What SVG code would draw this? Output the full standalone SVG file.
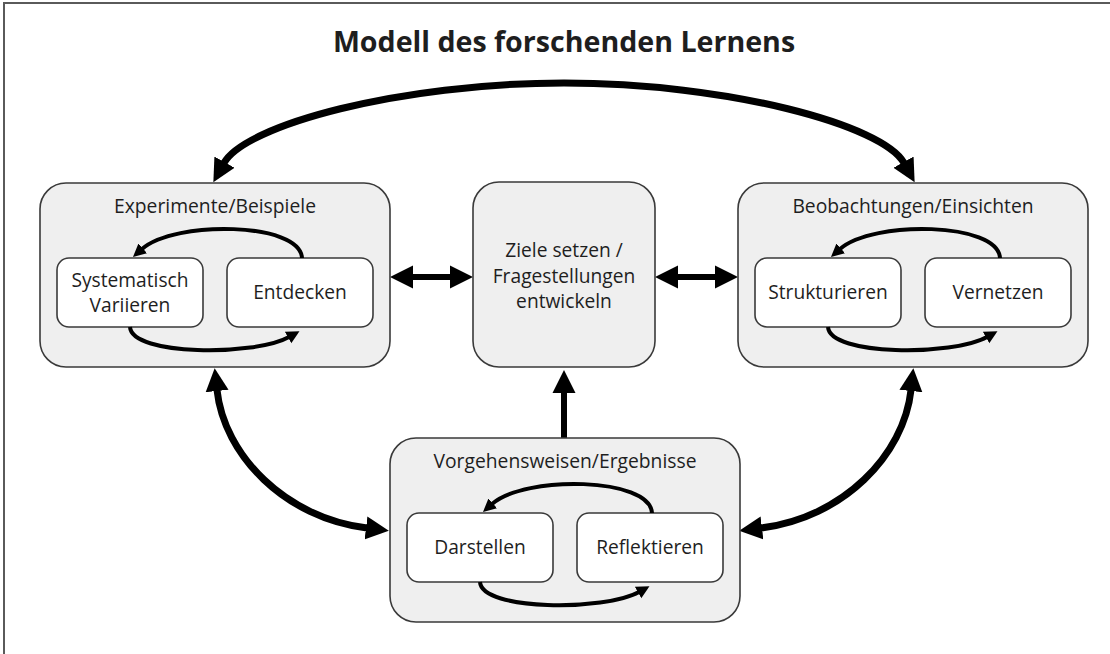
<svg xmlns="http://www.w3.org/2000/svg" width="1110" height="654" viewBox="0 0 1110 654">
<style>
.frame{fill:none;stroke:#5a5a5a;stroke-width:2}
.outer{fill:#efefef;stroke:#3a3a3a;stroke-width:1.6}
.inner{fill:#ffffff;stroke:#3a3a3a;stroke-width:1.6}
.t{font-family:"Open Sans",Lato,"Liberation Sans",sans-serif;fill:#1e1e1e;text-anchor:middle}
.head{font-size:19.3px}
.lbl{font-size:19.2px}
.title{font-size:28.6px;font-weight:bold}
.big{fill:none;stroke:#000;stroke-width:7}
.mid{fill:none;stroke:#000;stroke-width:6}
.loop{fill:none;stroke:#000;stroke-width:4}
</style>
<defs>
<marker id="bh" markerUnits="userSpaceOnUse" viewBox="0 -12 23 24" refX="1" refY="0" markerWidth="23" markerHeight="24" orient="auto-start-reverse">
<path d="M0,-11.5 L23,0 L0,11.5 z" fill="#000"/>
</marker>
<marker id="sh" markerUnits="userSpaceOnUse" viewBox="0 -7 13 14" refX="1" refY="0" markerWidth="13" markerHeight="14" orient="auto-start-reverse">
<path d="M0,-6.5 L13,0 L0,6.5 z" fill="#000"/>
</marker>
<g id="loops">
<path class="loop" d="M302,258 C300,222 175,220 142,249" marker-end="url(#sh)"/>
<path class="loop" d="M130,327 C132,356 255,356 289,337" marker-end="url(#sh)"/>
</g>
</defs>
<path class="frame" d="M4,654 L4,3 L1110,3"/>
<text class="t title" x="564" y="52">Modell des forschenden Lernens</text>
<g id="connectors">
<path class="big" d="M224,163 C245,125 400,83 564,83 C728,83 883,125 904,163" marker-start="url(#bh)" marker-end="url(#bh)"/>
<path class="big" d="M217,390 C224,455 285,518 367,528" marker-start="url(#bh)" marker-end="url(#bh)"/>
<path class="big" d="M911,390 C904,455 843,518 761,528" marker-start="url(#bh)" marker-end="url(#bh)"/>
<path class="mid" d="M412,277 L451,277" marker-start="url(#bh)" marker-end="url(#bh)"/>
<path class="mid" d="M677,277 L716,277" marker-start="url(#bh)" marker-end="url(#bh)"/>
<path class="mid" d="M564,438 L564,392" marker-end="url(#bh)"/>
</g>
<g id="node-experimente">
<rect class="outer" x="40" y="183" width="350" height="184" rx="26"/>
<text class="t head" x="215" y="213">Experimente/Beispiele</text>
<rect class="inner" x="57" y="258" width="146" height="69" rx="12"/>
<text class="t lbl" x="130" y="287">Systematisch</text>
<text class="t lbl" x="130" y="312">Variieren</text>
<rect class="inner" x="227" y="258" width="146" height="69" rx="12"/>
<text class="t lbl" x="300" y="299">Entdecken</text>
<use href="#loops"/>
</g>
<g id="node-ziele">
<rect class="outer" x="473" y="182" width="182" height="185" rx="26"/>
<text class="t lbl" x="564" y="257">Ziele setzen /</text>
<text class="t lbl" x="564" y="283">Fragestellungen</text>
<text class="t lbl" x="564" y="308">entwickeln</text>
</g>
<g id="node-beobachtungen">
<rect class="outer" x="738" y="183" width="350" height="184" rx="26"/>
<text class="t head" x="913" y="213">Beobachtungen/Einsichten</text>
<rect class="inner" x="755" y="258" width="146" height="69" rx="12"/>
<text class="t lbl" x="828" y="299">Strukturieren</text>
<rect class="inner" x="925" y="258" width="146" height="69" rx="12"/>
<text class="t lbl" x="998" y="299">Vernetzen</text>
<use href="#loops" transform="translate(698,0)"/>
</g>
<g id="node-vorgehensweisen">
<rect class="outer" x="390" y="438" width="350" height="184" rx="26"/>
<text class="t head" x="565" y="468">Vorgehensweisen/Ergebnisse</text>
<rect class="inner" x="407" y="513" width="146" height="69" rx="12"/>
<text class="t lbl" x="480" y="554">Darstellen</text>
<rect class="inner" x="577" y="513" width="146" height="69" rx="12"/>
<text class="t lbl" x="650" y="554">Reflektieren</text>
<use href="#loops" transform="translate(350,255)"/>
</g>
</svg>
